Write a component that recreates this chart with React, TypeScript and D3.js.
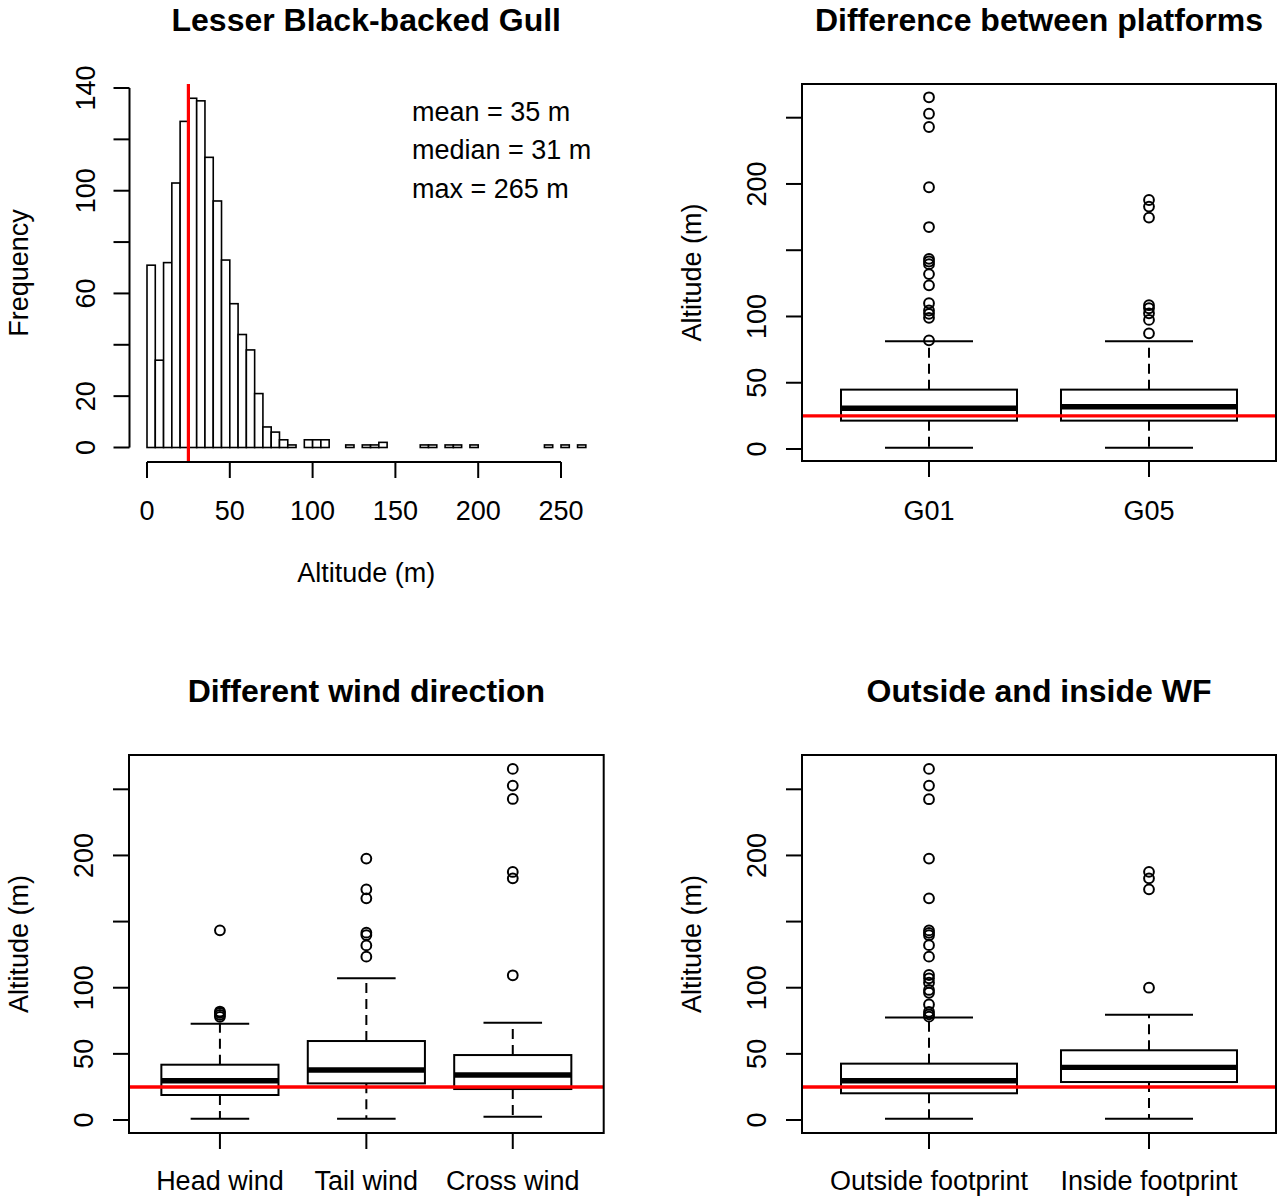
import React from "react";
import * as d3 from "d3";

// ---------- DATA ----------
// Histogram of altitudes (bins of 5 m, starting at 0 m)
const histBinWidth = 5;
const histCounts = [
  71, 34, 72, 103, 127, 136, 135, 113, 96, 73, 56, 44, 38, 21, 8, 6, 3, 1, 0, 3,
  3, 3, 0, 0, 1, 0, 1, 1, 2, 0, 0, 0, 0, 1, 1, 0, 1, 1, 0, 1,
  0, 0, 0, 0, 0, 0, 0, 0, 1, 0, 1, 0, 1,
];
const histXTicks = [0, 50, 100, 150, 200, 250];
const histYTicks = [0, 20, 40, 60, 80, 100, 120, 140];
const histYLabels = [0, 20, 60, 100, 140];
const histStats = ["mean = 35 m", "median = 31 m", "max = 265 m"];
const referenceAltitude = 25;

const boxYTicks = [0, 50, 100, 150, 200, 250];
const boxYLabels = [0, 50, 100, 200];

// [lower whisker, Q1, median, Q3, upper whisker]
const platformCategories = ["G01", "G05"];
const platformStats = [
  [1, 21.4, 30.7, 44.8, 81.3],
  [1, 21.4, 31.9, 44.8, 81.3],
];
const platformOutliers = [
  [82, 99, 102, 104.5, 110, 123.5, 132, 139.5, 141.5, 143.5, 167.5, 197.5, 243, 253, 265.4],
  [87.3, 97.4, 102.4, 106.2, 108.5, 174.6, 182.9, 187.9],
];

const windCategories = ["Head wind", "Tail wind", "Cross wind"];
const windStats = [
  [1, 18.9, 29.7, 41.8, 72.8],
  [1, 27.7, 37.8, 59.7, 107.1],
  [2.5, 23.4, 34, 49.1, 73.6],
];
const windOutliers = [
  [78, 79.5, 81, 82, 143.4],
  [123.5, 132, 139.8, 141.6, 167.6, 174.4, 197.6],
  [109.4, 182.7, 187.5, 242.7, 252.8, 265.4],
];

const footprintCategories = ["Outside footprint", "Inside footprint"];
const footprintStats = [
  [1, 20.2, 29.7, 42.6, 77.4],
  [1, 28.7, 39.8, 52.7, 79.6],
];
const footprintOutliers = [
  [78.1, 79.8, 81.8, 87.3, 96.2, 98.3, 103.8, 107.1, 109.6, 123.5, 132.2, 139.7, 141.5, 143.3, 167.6, 197.6, 242.5, 252.8, 265.4],
  [100, 174.4, 182.7, 187.6],
];

// ---------- STYLE ----------
const FONT = "'Liberation Sans', Arial, Helvetica, sans-serif";
const FS = 27;
const TFS = 32;
const LW = 2;

function Histogram() {
  const frame = { x0: 129.5, x1: 603, y0: 84, y1: 462 };
  const x = d3.scaleLinear().domain([0, 250]).range([147, 561]);
  const y = d3.scaleLinear().domain([0, 140]).range([447.5, 88]);
  const cx = (frame.x0 + frame.x1) / 2;
  const cy = (frame.y0 + frame.y1) / 2;
  return (
    <g>
      <text x={cx} y={31} textAnchor="middle" fontSize={TFS} fontWeight="bold">
        Lesser Black-backed Gull
      </text>
      {histCounts.map((c, i) => {
        const a = x(i * histBinWidth);
        const b = x((i + 1) * histBinWidth);
        return (
          <rect key={i} x={a} y={y(c)} width={b - a} height={y(0) - y(c)}
            fill="white" stroke="black" strokeWidth={1.6} />
        );
      })}
      <line x1={x(referenceAltitude)} x2={x(referenceAltitude)} y1={frame.y0} y2={frame.y1}
        stroke="#ff0000" strokeWidth={3.2} />
      {/* x axis */}
      <line x1={x(0)} x2={x(250)} y1={frame.y1} y2={frame.y1} stroke="black" strokeWidth={LW} />
      {histXTicks.map((t) => (
        <g key={t}>
          <line x1={x(t)} x2={x(t)} y1={frame.y1} y2={frame.y1 + 16} stroke="black" strokeWidth={LW} />
          <text x={x(t)} y={520} textAnchor="middle" fontSize={FS}>{t}</text>
        </g>
      ))}
      <text x={cx} y={582} textAnchor="middle" fontSize={FS}>Altitude (m)</text>
      {/* y axis */}
      <line x1={frame.x0} x2={frame.x0} y1={y(0)} y2={y(140)} stroke="black" strokeWidth={LW} />
      {histYTicks.map((t) => (
        <line key={t} x1={frame.x0 - 16} x2={frame.x0} y1={y(t)} y2={y(t)} stroke="black" strokeWidth={LW} />
      ))}
      {histYLabels.map((t) => (
        <text key={t} transform={`translate(${frame.x0 - 35},${y(t)}) rotate(-90)`}
          textAnchor="middle" fontSize={FS}>{t}</text>
      ))}
      <text transform={`translate(${frame.x0 - 102},${cy}) rotate(-90)`} textAnchor="middle" fontSize={FS}>
        Frequency
      </text>
      {histStats.map((s, i) => (
        <text key={s} x={412} y={121 + i * 38.3} fontSize={FS}>{s}</text>
      ))}
    </g>
  );
}

type BoxProps = {
  title: string;
  categories: string[];
  stats: number[][];
  outliers: number[][];
  frame: { x0: number; x1: number; y0: number; y1: number };
  xDomain: [number, number];
  yRange: [number, number];
  titleY: number;
  tickLabelY: number;
};

function BoxPanel(p: BoxProps) {
  const { frame } = p;
  const x = d3.scaleLinear().domain(p.xDomain).range([frame.x0, frame.x1]);
  const y = d3.scaleLinear().domain([0, 250]).range(p.yRange);
  const spacing = x(2) - x(1);
  const bw = spacing * 0.8;
  const sw = bw * 0.5;
  const cx = (frame.x0 + frame.x1) / 2;
  const cy = (frame.y0 + frame.y1) / 2;
  return (
    <g>
      <text x={cx} y={p.titleY} textAnchor="middle" fontSize={TFS} fontWeight="bold">{p.title}</text>
      {p.categories.map((c, i) => {
        const xc = x(i + 1);
        const [lo, q1, med, q3, hi] = p.stats[i];
        return (
          <g key={c}>
            <line x1={xc} x2={xc} y1={y(q3)} y2={y(hi)} stroke="black" strokeWidth={LW} strokeDasharray="10,6" />
            <line x1={xc} x2={xc} y1={y(q1)} y2={y(lo)} stroke="black" strokeWidth={LW} strokeDasharray="10,6" />
            <line x1={xc - sw / 2} x2={xc + sw / 2} y1={y(hi)} y2={y(hi)} stroke="black" strokeWidth={LW} />
            <line x1={xc - sw / 2} x2={xc + sw / 2} y1={y(lo)} y2={y(lo)} stroke="black" strokeWidth={LW} />
            <rect x={xc - bw / 2} y={y(q3)} width={bw} height={y(q1) - y(q3)} fill="white" stroke="black" strokeWidth={LW} />
            <line x1={xc - bw / 2} x2={xc + bw / 2} y1={y(med)} y2={y(med)} stroke="black" strokeWidth={5.4} />
            {p.outliers[i].map((o, j) => (
              <circle key={j} cx={xc} cy={y(o)} r={4.9} fill="none" stroke="black" strokeWidth={2} />
            ))}
            <line x1={xc} x2={xc} y1={frame.y1} y2={frame.y1 + 16} stroke="black" strokeWidth={LW} />
            <text x={xc} y={p.tickLabelY} textAnchor="middle" fontSize={FS}>{c}</text>
          </g>
        );
      })}
      <line x1={frame.x0} x2={frame.x1} y1={y(referenceAltitude)} y2={y(referenceAltitude)} stroke="#ff0000" strokeWidth={3.4} />
      <rect x={frame.x0} y={frame.y0} width={frame.x1 - frame.x0} height={frame.y1 - frame.y0}
        fill="none" stroke="black" strokeWidth={LW} />
      {boxYTicks.map((t) => (
        <line key={t} x1={frame.x0 - 16} x2={frame.x0} y1={y(t)} y2={y(t)} stroke="black" strokeWidth={LW} />
      ))}
      {boxYLabels.map((t) => (
        <text key={t} transform={`translate(${frame.x0 - 36},${y(t)}) rotate(-90)`} textAnchor="middle" fontSize={FS}>{t}</text>
      ))}
      <text transform={`translate(${frame.x0 - 101},${cy}) rotate(-90)`} textAnchor="middle" fontSize={FS}>
        Altitude (m)
      </text>
    </g>
  );
}

export default function App() {
  return (
    <svg width={1277} height={1198} style={{ position: "absolute", left: 0, top: 0, background: "white" }}
      fontFamily={FONT}>
      <rect x={0} y={0} width={1277} height={1198} fill="white" />
      <Histogram />
      <BoxPanel title="Difference between platforms" categories={platformCategories} stats={platformStats}
        outliers={platformOutliers} frame={{ x0: 802, x1: 1276, y0: 84, y1: 461 }} xDomain={[0.4227, 2.5773]}
        yRange={[449, 117.7]} titleY={31} tickLabelY={520} />
      <BoxPanel title="Different wind direction" categories={windCategories} stats={windStats}
        outliers={windOutliers} frame={{ x0: 129, x1: 603.7, y0: 755, y1: 1133 }} xDomain={[0.379, 3.621]}
        yRange={[1120, 789.3]} titleY={702} tickLabelY={1190} />
      <BoxPanel title="Outside and inside WF" categories={footprintCategories} stats={footprintStats}
        outliers={footprintOutliers} frame={{ x0: 802, x1: 1276, y0: 755, y1: 1133 }} xDomain={[0.4227, 2.5773]}
        yRange={[1120, 789.3]} titleY={702} tickLabelY={1190} />
    </svg>
  );
}
